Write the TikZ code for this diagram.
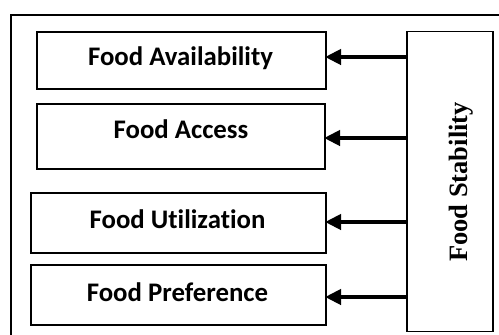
\documentclass[tikz,border=0pt]{standalone}
\usepackage{fontspec}
\setmainfont{Liberation Serif}
\newfontfamily\boxfont[RawFeature=-liga]{Carlito}
\usetikzlibrary{arrows.meta}
\begin{document}
\begin{tikzpicture}[x=1pt,y=-1pt,
  pillar/.style={draw=black, line width=1.8pt, fill=white},
  pillartext/.style={font=\boxfont\fontsize{26.8}{32}\selectfont\bfseries, anchor=base, inner sep=0pt},
  stabtext/.style={font=\fontsize{26.5}{32}\selectfont\bfseries, rotate=90, anchor=base, inner sep=0pt},
  feed/.style={line width=4.5pt, -{Triangle[length=16pt,width=15pt]}}]
  \useasboundingbox (0,0) rectangle (499,335);
  \clip (0,0) rectangle (499,335);
  % surrounding frame, open to the right and bottom
  \draw[line width=1.7pt] (11,15) rectangle (520,360);

  % the four pillar boxes
  \node[pillar, minimum width=289pt, minimum height=57pt, anchor=north west] (b1) at (36,31) {};
  \node[pillar, minimum width=288pt, minimum height=65pt, anchor=north west] (b2) at (36,103) {};
  \node[pillar, minimum width=295pt, minimum height=60pt, anchor=north west] (b3) at (30,192) {};
  \node[pillar, minimum width=295pt, minimum height=60pt, anchor=north west] (b4) at (30,264) {};

  \node[pillartext] (t1) at (180.5,65.7) {Food Availability};
  \node[pillartext] (t2) at (181,138) {Food Access};
  \node[pillartext] (t3) at (177.5,228.3) {Food Utilization};
  \node[pillartext] (t4) at (177.5,301) {Food Preference};

  % stability column
  \node[pillar, minimum width=86pt, minimum height=300pt, anchor=north west] (st) at (406,30.5) {};
  \node[stabtext] (stt) at (467,182) {Food Stability};

  % arrows from the stability column to each pillar
  \coordinate (a1) at (325,57);
  \coordinate (a2) at (324,138);
  \coordinate (a3) at (325,222);
  \coordinate (a4) at (325,297);
  \draw[feed] (st.west |- a1) -- (a1);
  \draw[feed] (st.west |- a2) -- (a2);
  \draw[feed] (st.west |- a3) -- (a3);
  \draw[feed] (st.west |- a4) -- (a4);
\end{tikzpicture}
\end{document}
